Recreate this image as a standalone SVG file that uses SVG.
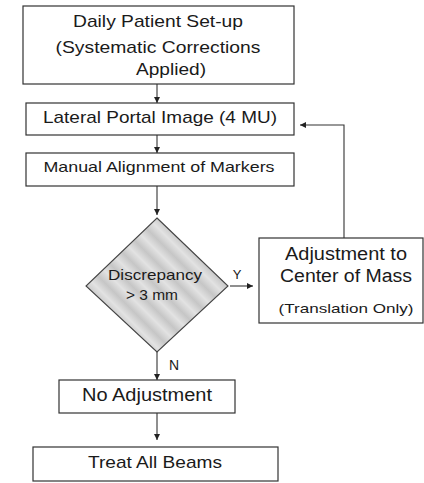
<svg xmlns="http://www.w3.org/2000/svg" width="424" height="483" viewBox="0 0 424 483">
<style>
.box{fill:#fff;stroke:#333;stroke-width:1.2}
.dia{fill:url(#mottle);stroke:#444;stroke-width:1.1}
text{font-family:"Liberation Sans",Arial,sans-serif;fill:#1a1a1a;text-anchor:middle}
.c{fill:none;stroke:#333;stroke-width:1.1}
</style>
<defs>
<marker id="ah" viewBox="0 0 10 10" refX="10" refY="5" markerWidth="6" markerHeight="6" markerUnits="userSpaceOnUse" orient="auto">
<path d="M0,0 L10,5 L0,10 z" fill="#222"/>
</marker>
<linearGradient id="mottle" gradientUnits="userSpaceOnUse" x1="100" y1="230" x2="112" y2="218" spreadMethod="repeat">
<stop offset="0" stop-color="#c6c6c6"/>
<stop offset="0.5" stop-color="#e2e2e2"/>
<stop offset="1" stop-color="#c6c6c6"/>
</linearGradient>
</defs>
<rect width="424" height="483" fill="#fff"/>
<g id="connectors">
<path class="c" d="M157,84 V103" marker-end="url(#ah)"/>
<path class="c" d="M157,135 V153" marker-end="url(#ah)"/>
<path class="c" d="M157,186 V215" marker-end="url(#ah)"/>
<path class="c" d="M230,286 H253" marker-end="url(#ah)"/>
<path class="c" d="M344,238 V125 H300" marker-end="url(#ah)"/>
<path class="c" d="M157,352 V380" marker-end="url(#ah)"/>
<path class="c" d="M157,413 V440" marker-end="url(#ah)"/>
<text x="237" y="279" font-size="13">Y</text>
<text x="174" y="370" font-size="14">N</text>
</g>
<g id="setup">
<rect class="box" x="23" y="6" width="271" height="78"/>
<text x="158" y="27" font-size="17" textLength="170" lengthAdjust="spacingAndGlyphs">Daily Patient Set-up</text>
<text x="158" y="53" font-size="17" textLength="205" lengthAdjust="spacingAndGlyphs">(Systematic Corrections</text>
<text x="171" y="75" font-size="17" textLength="70" lengthAdjust="spacingAndGlyphs">Applied)</text>
</g>
<g id="portal">
<rect class="box" x="26" y="103" width="268" height="32"/>
<text x="160" y="123" font-size="17" textLength="234" lengthAdjust="spacingAndGlyphs">Lateral Portal Image (4 MU)</text>
</g>
<g id="manual">
<rect class="box" x="26" y="153" width="268" height="33"/>
<text x="159" y="172" font-size="15" textLength="231" lengthAdjust="spacingAndGlyphs">Manual Alignment of Markers</text>
</g>
<g id="decision">
<polygon class="dia" points="157,218 228,286 157,352 86,286"/>
<text x="155" y="280" font-size="15" textLength="94" lengthAdjust="spacingAndGlyphs">Discrepancy</text>
<text x="152" y="300" font-size="15" textLength="52" lengthAdjust="spacingAndGlyphs">&gt; 3 mm</text>
</g>
<g id="adjust">
<rect class="box" x="259" y="238" width="164" height="85"/>
<text x="346" y="260" font-size="18" textLength="122" lengthAdjust="spacingAndGlyphs">Adjustment to</text>
<text x="346" y="282" font-size="18" textLength="132" lengthAdjust="spacingAndGlyphs">Center of Mass</text>
<text x="346" y="313" font-size="13" textLength="135" lengthAdjust="spacingAndGlyphs">(Translation Only)</text>
</g>
<g id="noadj">
<rect class="box" x="59" y="380" width="176" height="33"/>
<text x="147" y="401" font-size="17.5" textLength="130" lengthAdjust="spacingAndGlyphs">No Adjustment</text>
</g>
<g id="treat">
<rect class="box" x="33" y="447" width="245" height="34"/>
<text x="155" y="468" font-size="17" textLength="134" lengthAdjust="spacingAndGlyphs">Treat All Beams</text>
</g>
</svg>
